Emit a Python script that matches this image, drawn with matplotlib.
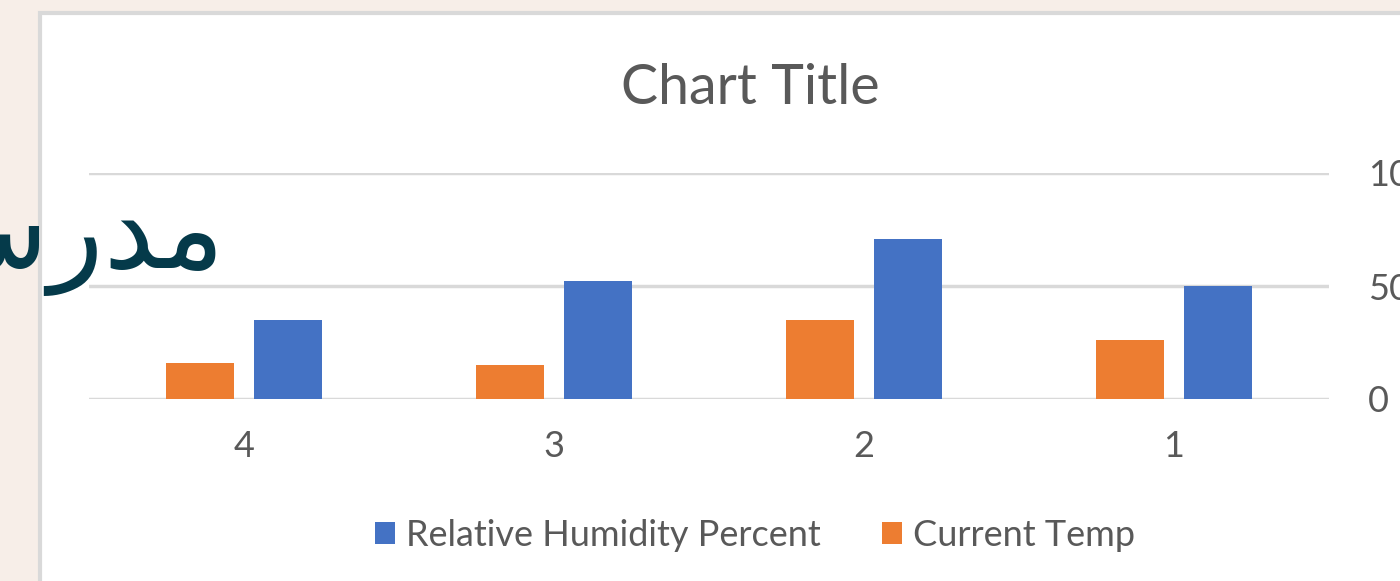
import matplotlib
import matplotlib.pyplot as plt
from matplotlib.patches import Rectangle, Patch
import numpy as np

plt.rcParams["font.family"] = ["Lato", "DejaVu Sans"]

# data
categories = ["4", "3", "2", "1"]
humidity = [35, 52, 71, 50]
current_temp = [16, 15, 35, 26]
y_ticks = [0, 50, 100]
title = "Chart Title"
banner = "\ufe94\ufeb3\ufead\ufeaa\ufee3"  # مدرسة, shaped glyphs in visual order

BLUE = "#4472C4"
ORANGE = "#ED7D31"
GRID = "#D9D9D9"
TEXT = "#595959"

fig = plt.figure(figsize=(14, 5.81), dpi=100)
fig.patch.set_facecolor("#F7EEE8")

# white chart panel with grey border, running off the right/bottom edge
fig.add_artist(Rectangle((40 / 1400, -0.1), 1.2, 1 - 13 / 581 + 0.1,
                         transform=fig.transFigure, facecolor="white",
                         edgecolor=GRID, linewidth=3, zorder=0))

ax = fig.add_axes([89 / 1400, 182 / 581, 1240 / 1400, 226 / 581])
ax.set_facecolor("none")

x = np.arange(len(categories)) + 0.5
w = 0.222
off = 0.142
ax.bar(x - off, current_temp, w, color=ORANGE, zorder=3)
ax.bar(x + off, humidity, w, color=BLUE, zorder=3)

ax.set_xlim(0, len(categories))
ax.set_ylim(0, 100)
ax.set_xticks(x)
ax.set_xticklabels(categories)
ax.set_yticks(y_ticks)
ax.yaxis.tick_right()
ax.tick_params(axis="y", length=0, pad=28, labelsize=26, labelcolor=TEXT)
ax.tick_params(axis="x", length=0, pad=22, labelsize=26, labelcolor=TEXT)
ax.grid(axis="y", color=GRID, linewidth=2.5, zorder=0)
for s in ax.spines.values():
    s.set_visible(False)

fig.text(750 / 1400, 1 - 88 / 581, title, ha="center", va="center",
         fontsize=40, color=TEXT)

handles = [Patch(facecolor=BLUE, label="Relative Humidity Percent"),
           Patch(facecolor=ORANGE, label="Current Temp")]
fig.legend(handles=handles, loc="center", bbox_to_anchor=(755 / 1400, 1 - 535 / 581),
           ncol=2, frameon=False, fontsize=26, labelcolor=TEXT,
           handlelength=0.55, handleheight=0.55, handletextpad=0.3,
           columnspacing=1.7)

fig.text(224 / 1400, 1 - 268 / 581, banner, ha="right", va="baseline",
         fontsize=82, color="#053A4A", family="DejaVu Sans", zorder=5)

fig.savefig("out.png", dpi=100)
